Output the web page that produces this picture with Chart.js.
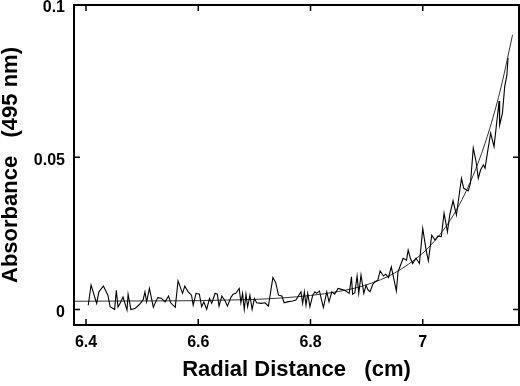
<!DOCTYPE html>
<html>
  <head>
	<title>Absorbance vs radial distance</title>
	<meta charset="utf-8">
	<script src="https://cdn.jsdelivr.net/npm/chart.js@4.4.1/dist/chart.umd.min.js"></script>
	<style>
	html, body { margin: 0; padding: 0; background: #fff; }
	#chart { display: block; }
	</style>
  </head>
  <body>
	<canvas id="chart" width="520" height="386"></canvas>
	<script>
	// scan: radial position (cm) and absorbance at 495 nm
	var radius = [6.404,6.409,6.419,6.423,6.431,6.439,6.443,6.451,6.454,6.457,6.461,6.466,6.473,6.475,6.480,6.487,6.491,6.497,6.502,6.505,6.508,6.513,6.520,6.524,6.528,
		6.534,6.541,6.547,6.551,6.559,6.564,6.572,6.576,6.582,6.588,6.591,6.596,6.602,6.606,6.610,6.615,6.620,6.624,6.630,6.634,6.637,6.642,6.648,6.652,6.658,6.662,6.667,6.673,
		6.676,6.679,6.682,6.685,6.688,6.692,6.696,6.700,6.704,6.712,6.719,6.725,6.733,6.738,6.743,6.749,6.753,6.759,6.768,6.774,6.783,6.786,6.789,6.792,6.795,6.799,6.804,
		6.808,6.811,6.816,6.819,6.823,6.829,6.833,6.838,6.843,6.849,6.855,6.861,6.869,6.873,6.875,6.879,6.883,6.886,6.890,6.895,6.899,6.902,6.906,6.911,6.915,6.920,6.924,6.930,6.934,6.939,
		6.944,6.953,6.956,6.965,6.971,6.974,6.978,6.982,6.988,6.994,7.000,7.006,7.010,7.016,7.022,7.027,7.033,7.038,7.044,7.048,7.054,7.060,7.069,7.073,7.081,7.085,7.090,7.095,7.099,7.103,
		7.108,7.111,7.117,7.121,7.127,7.133,7.136,7.137,7.142,7.146,7.150,7.152];
	var absorbance = [0.0014,0.0080,0.0020,0.0058,0.0077,0.0047,0.0009,0.0000,0.0063,0.0008,0.0021,0.0041,-0.0002,0.0050,0.0000,0.0003,0.0009,0.0020,0.0033,0.0058,0.0025,0.0069,0.0007,0.0025,0.0039,
		0.0037,0.0025,0.0044,0.0022,0.0007,0.0094,0.0053,0.0077,0.0058,0.0047,0.0014,0.0053,0.0050,0.0009,0.0025,0.0000,0.0036,0.0020,0.0053,0.0050,0.0011,0.0044,0.0028,0.0011,0.0039,0.0050,0.0053,0.0069,
		0.0022,0.0053,0.0000,0.0050,0.0009,0.0047,0.0000,0.0036,0.0022,0.0020,0.0022,0.0011,0.0105,0.0088,0.0047,0.0044,0.0022,0.0025,0.0028,0.0031,0.0058,0.0020,0.0058,0.0014,0.0053,0.0009,0.0047,
		0.0058,0.0053,0.0061,0.0036,0.0007,0.0058,0.0025,0.0058,0.0050,0.0069,0.0066,0.0063,0.0053,0.0107,0.0050,0.0055,0.0110,0.0053,0.0113,0.0053,0.0080,0.0066,0.0058,0.0083,0.0091,0.0096,0.0127,0.0110,0.0116,0.0105,
		0.0140,0.0061,0.0124,0.0168,0.0162,0.0195,0.0168,0.0151,0.0168,0.0151,0.0266,0.0195,0.0160,0.0244,0.0228,0.0241,0.0239,0.0316,0.0255,0.0310,0.0357,0.0310,0.0431,0.0398,0.0389,0.0414,0.0530,0.0486,0.0431,0.0458,
		0.0475,0.0464,0.0535,0.0579,0.0535,0.0634,0.0685,0.0606,0.0645,0.0732,0.0771,0.0826];

	// fitted curve
	var fitRadius = [6.38,6.50,6.60,6.65,6.70,6.75,6.80,6.85,6.90,6.95,7.00,7.02,7.04,7.06,7.08,7.10,7.12,7.14,7.16];
	var fitAbsorbance = [0.0027,0.0028,0.0029,0.0031,0.0033,0.0038,0.0046,0.0059,0.0081,0.0120,0.0185,0.0223,0.0269,0.0327,0.0399,0.0488,0.0598,0.0734,0.0902];

	var xTicks = [6.4, 6.6, 6.8, 7];
	var xTickLabels = ["6.4", "6.6", "6.8", "7"];
	var yTicks = [0, 0.05, 0.1];
	var yTickLabels = ["0", "0.05", "0.1"];

	function toPoints(xs, ys) {
		var pts = [];
		for (var i = 0; i < xs.length; i++) pts.push({x: xs[i], y: ys[i]});
		return pts;
	}

	// box round the plot with inward ticks on all four sides
	var frame = {
		id: 'frame',
		afterDatasetsDraw: function(chart) {
			var ctx = chart.ctx, a = chart.chartArea;
			var sx = chart.scales.x, sy = chart.scales.y;
			ctx.save();
			ctx.strokeStyle = '#000';
			ctx.lineWidth = 1.5;
			ctx.beginPath();
			xTicks.forEach(function(v) {
				var px = sx.getPixelForValue(v);
				ctx.moveTo(px, a.bottom); ctx.lineTo(px, a.bottom - 6);
				ctx.moveTo(px, a.top); ctx.lineTo(px, a.top + 6);
			});
			yTicks.forEach(function(v) {
				var py = sy.getPixelForValue(v);
				ctx.moveTo(a.left, py); ctx.lineTo(a.left + 6, py);
				ctx.moveTo(a.right, py); ctx.lineTo(a.right - 6, py);
			});
			ctx.stroke();
			ctx.lineWidth = 2;
			ctx.strokeRect(a.left, a.top, a.right - a.left, a.bottom - a.top);
			ctx.restore();
		}
	};

	var tickFont = {family: "'Liberation Sans', Arial, sans-serif", size: 16, weight: 'bold'};
	var titleFont = {family: "'Liberation Sans', Arial, sans-serif", size: 22, weight: 'bold', lineHeight: 1.2};

	new Chart(document.getElementById('chart'), {
		type: 'line',
		data: {
			datasets: [{
				label: 'data',
				data: toPoints(radius, absorbance),
				borderColor: '#000',
				borderWidth: 1.1,
				pointRadius: 0,
				tension: 0
			}, {
				label: 'fit',
				data: toPoints(fitRadius, fitAbsorbance),
				borderColor: '#333',
				borderWidth: 1,
				pointRadius: 0,
				cubicInterpolationMode: 'monotone'
			}]
		},
		options: {
			responsive: false,
			animation: false,
			devicePixelRatio: 1,
			layout: {padding: {top: 5, right: 1, left: 0, bottom: 0}},
			plugins: {legend: {display: false}, tooltip: {enabled: false}},
			scales: {
				x: {
					type: 'linear',
					min: 6.3786,
					max: 7.1715,
					grid: {display: false, drawTicks: false},
					border: {display: false},
					afterBuildTicks: function(scale) {
						scale.ticks = xTicks.map(function(v) { return {value: v}; });
					},
					afterFit: function(scale) {
						scale.height = 61;
						scale.paddingLeft = 0;
						scale.paddingRight = 0;
					},
					ticks: {
						color: '#000',
						font: tickFont,
						padding: 8,
						maxRotation: 0,
						callback: function(v) { return xTickLabels[xTicks.indexOf(v)]; }
					},
					title: {
						display: true,
						text: 'Radial Distance   (cm)',
						color: '#000',
						font: titleFont,
						padding: {top: 0, bottom: 3}
					}
				},
				y: {
					type: 'linear',
					min: -0.0051,
					max: 0.1,
					grid: {display: false, drawTicks: false},
					border: {display: false},
					afterBuildTicks: function(scale) {
						scale.ticks = yTicks.map(function(v) { return {value: v}; });
					},
					afterFit: function(scale) {
						scale.width = 74;
						scale.paddingTop = 0;
						scale.paddingBottom = 0;
					},
					ticks: {
						color: '#000',
						font: tickFont,
						padding: 9,
						labelOffset: 3,
						callback: function(v) { return yTickLabels[yTicks.indexOf(v)]; }
					},
					title: {
						display: true,
						text: 'Absorbance   (495 nm)',
						color: '#000',
						font: {family: "'Liberation Sans', Arial, sans-serif", size: 22, weight: 'bold', lineHeight: 1},
						padding: {top: 0, bottom: 0}
					}
				}
			}
		},
		plugins: [frame]
	});
	</script>
  </body>
</html>
